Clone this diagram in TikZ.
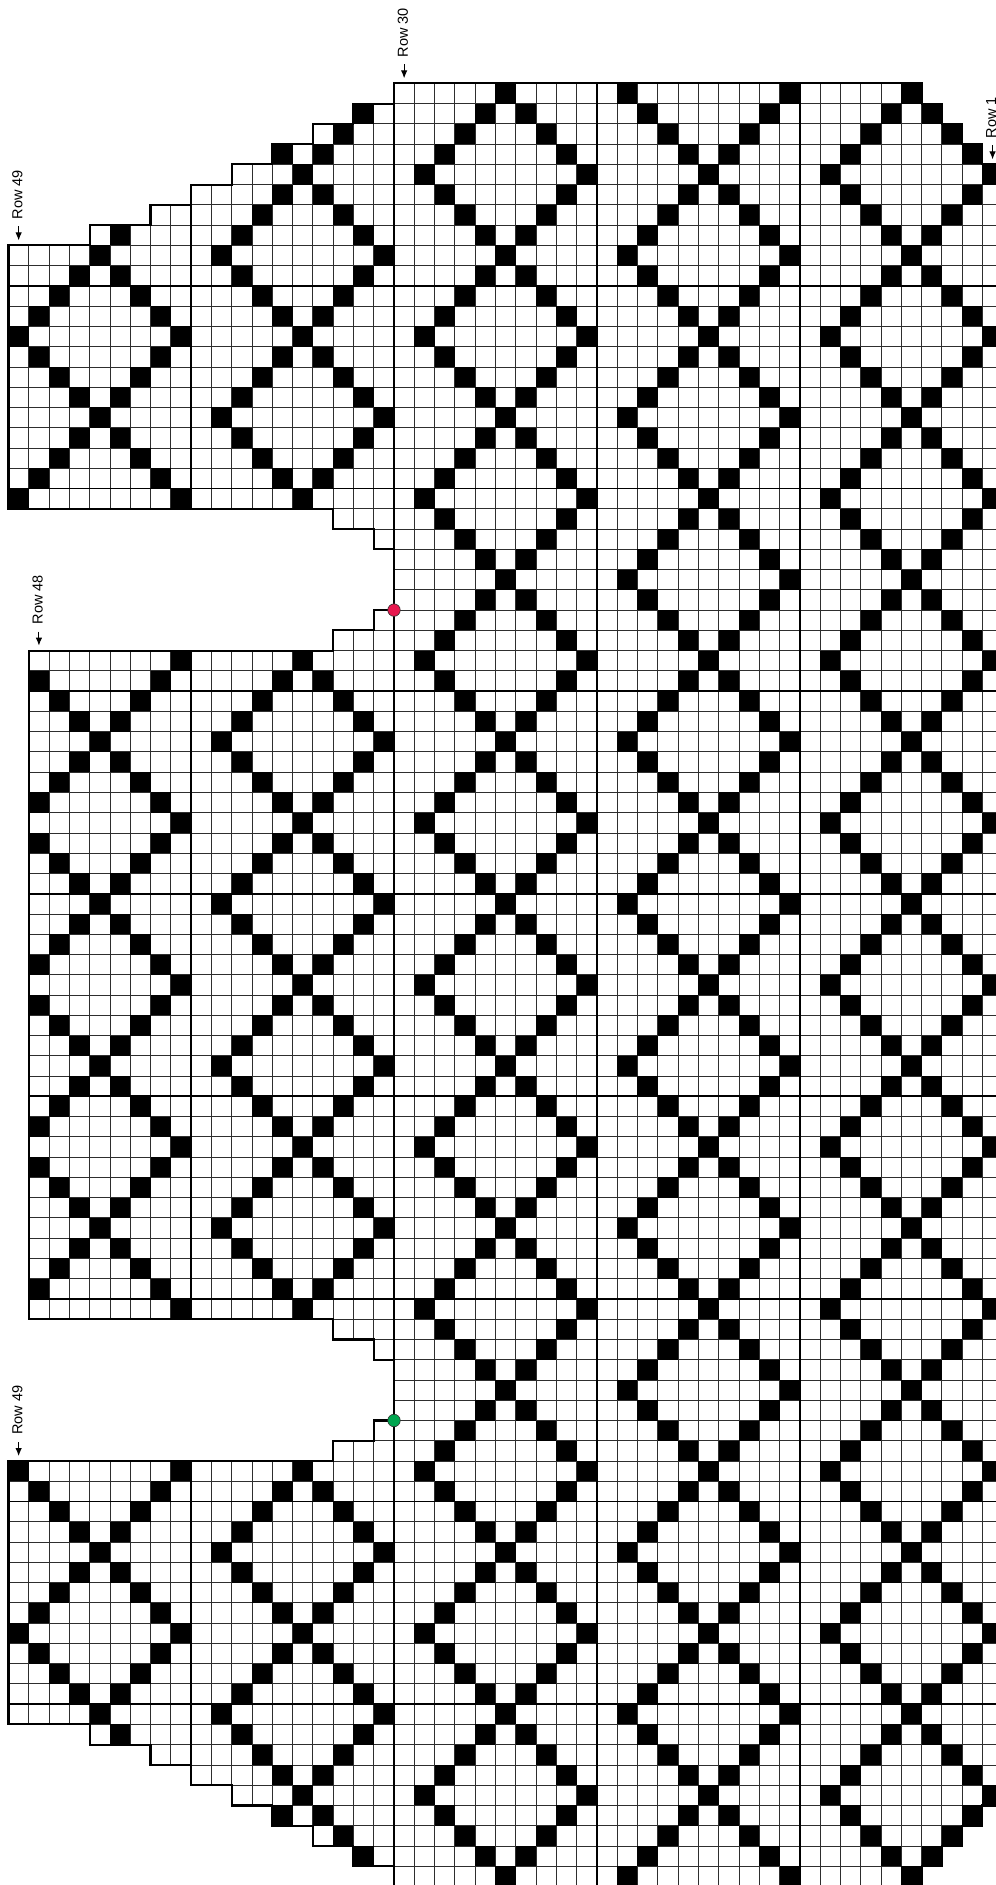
\documentclass[tikz,border=0pt]{standalone}
\usepackage{fontspec}
\setmainfont{Liberation Sans}
\usetikzlibrary{arrows.meta}
\definecolor{dotred}{HTML}{E8194F}
\definecolor{dotgreen}{HTML}{00A650}
\tikzset{
  gridline/.style={draw=black!82, line width=0.85pt},
  tenline/.style={draw=black, line width=1.7pt},
  chartoutline/.style={draw=black, line width=2.1pt, line join=miter},
  cellfill/.style={fill=black},
  rowlabel/.style={font=\fontsize{14.5}{17}\selectfont, rotate=90, anchor=west, inner sep=0pt},
  rowarrow/.style={-{Latex[length=8pt,width=6.5pt]}, line width=1pt},
  marker/.style={circle, draw=black!80, line width=0.6pt, minimum size=12.5pt, inner sep=0pt}
}
\newcommand\segfill[3]{%
  \pgfmathtruncatemacro\myu{mod(mod(#1,20)+20,20)}%
  \pgfmathtruncatemacro\mylast{#3-1}%
  \foreach \jj in {#2,...,\mylast}{%
    \pgfmathtruncatemacro\myv{mod(\jj,8)}%
    \pgfmathtruncatemacro\myw{4-abs(\myv-4)}%
    \pgfmathtruncatemacro\myblk{(abs(\myu-5)==\myw)||(abs(\myu-15)==4-\myw)}%
    \ifnum\myblk=1\relax \fill[cellfill] (#1,\jj) rectangle ++(1,1);\fi
  }%
}
\newcommand\seggrid[3]{%
  \draw[gridline] (#1,#2) -- (#1,#3) (#1+1,#2) -- (#1+1,#3);
  \draw[gridline] \foreach \jj in {#2,...,#3}{(#1,\jj) -- ++(1,0)};
}
\newcommand\segten[3]{%
  \foreach \jj in {10,20,...,80}{%
    \ifnum\jj>#2\relax \ifnum\jj<#3\relax \draw[tenline] (#1,\jj) -- ++(1,0);\fi\fi
  }%
}
\def\segs{0/0/89, 1/0/89, 2/0/89, 3/0/89, 4/0/89, 5/0/89, 6/0/89, 7/0/89, 8/0/89, 9/0/89,
 10/0/89, 11/0/89, 12/0/89, 13/0/89, 14/0/89, 15/0/89, 16/0/89, 17/0/89, 18/0/89, 19/0/89,
 20/0/89, 21/0/89, 22/0/89, 23/0/89, 24/0/89, 25/0/89,
 26/1/88, 27/2/87, 28/3/86, 29/4/85,
 -1/1/23, -1/26/63, -1/66/88, -2/1/22, -2/27/62, -2/67/88, -3/2/22, -3/27/62, -3/67/87,
 -4/2/21, -4/28/61, -4/68/87, -5/3/21, -5/28/61, -5/68/86, -6/3/21, -6/28/61, -6/68/86,
 -7/4/21, -7/28/61, -7/68/85, -8/4/21, -8/28/61, -8/68/85, -9/5/21, -9/28/61, -9/68/84,
 -10/5/21, -10/28/61, -10/68/84, -11/6/21, -11/28/61, -11/68/83, -12/6/21, -12/28/61, -12/68/83,
 -13/7/21, -13/28/61, -13/68/82, -14/7/21, -14/28/61, -14/68/82, -15/7/21, -15/28/61, -15/68/82,
 -16/8/21, -16/28/61, -16/68/81, -17/8/21, -17/28/61, -17/68/81, -18/8/21, -18/28/61, -18/68/81,
 -19/8/21, -19/68/81}
\begin{document}
\begin{tikzpicture}
\useasboundingbox (0pt,0pt) rectangle (996pt,-1885pt);
\fill[white] (0pt,0pt) rectangle (996pt,-1885pt);
\clip (0pt,0pt) rectangle (996pt,-1885pt);
\begin{scope}[shift={(394pt,-83.33pt)}, x=20.29pt, y=-20.26pt]
  % thin grid
  \foreach \cc/\ja/\jb in \segs {\seggrid{\cc}{\ja}{\jb}}
  % black cells
  \foreach \cc/\ja/\jb in \segs {\segfill{\cc}{\ja}{\jb}}
  % every-ten lines
  \foreach \cc/\ja/\jb in \segs {\segten{\cc}{\ja}{\jb}}
  \draw[tenline] (0,0) -- (0,89) (10,0) -- (10,89) (20,0) -- (20,89)
                 (-10,5) -- (-10,21) (-10,28) -- (-10,61) (-10,68) -- (-10,84);
  % outline
  \draw[chartoutline] (0,0) -- (26,0) -- (26,1) -- (27,1) -- (27,2) -- (28,2) -- (28,3) -- (29,3) -- (29,4)
    -- (30,4) -- (30,85) -- (29,85) -- (29,86) -- (28,86) -- (28,87) -- (27,87) -- (27,88) -- (26,88)
    -- (26,89) -- (0,89) -- (0,88) -- (-2,88) -- (-2,87) -- (-4,87) -- (-4,86) -- (-6,86) -- (-6,85)
    -- (-8,85) -- (-8,84) -- (-10,84) -- (-10,83) -- (-12,83) -- (-12,82) -- (-15,82) -- (-15,81)
    -- (-19,81) -- (-19,68) -- (-3,68) -- (-3,67) -- (-1,67) -- (-1,66) -- (0,66) -- (0,63) -- (-1,63)
    -- (-1,62) -- (-3,62) -- (-3,61) -- (-18,61) -- (-18,28) -- (-3,28) -- (-3,27) -- (-1,27) -- (-1,26)
    -- (0,26) -- (0,23) -- (-1,23) -- (-1,22) -- (-3,22) -- (-3,21) -- (-19,21) -- (-19,8) -- (-15,8)
    -- (-15,7) -- (-12,7) -- (-12,6) -- (-10,6) -- (-10,5) -- (-8,5) -- (-8,4) -- (-6,4) -- (-6,3)
    -- (-4,3) -- (-4,2) -- (-2,2) -- (-2,1) -- (0,1) -- cycle;
  % markers
  \node[marker, fill=dotred] (reddot) at (0,26) {};
  \node[marker, fill=dotgreen] (greendot) at (0,66) {};
  % row labels with arrows
  \foreach \nm/\cx/\jt/\txt in {r30/0.5/0/Row 30, r1/29.5/4/Row 1, r49a/-18.5/8/Row 49, r48/-17.5/28/Row 48, r49b/-18.5/68/Row 49}{
    \node[rowlabel] (lab\nm) at ([shift={(-1.3pt,26pt)}]\cx,\jt) {\txt};
    \coordinate (as\nm) at ([yshift=19pt]\cx,\jt);
    \coordinate (ae\nm) at ([yshift=5pt]\cx,\jt);
    \draw[rowarrow] (as\nm) -- (ae\nm);
  }
\end{scope}
\end{tikzpicture}
\end{document}
